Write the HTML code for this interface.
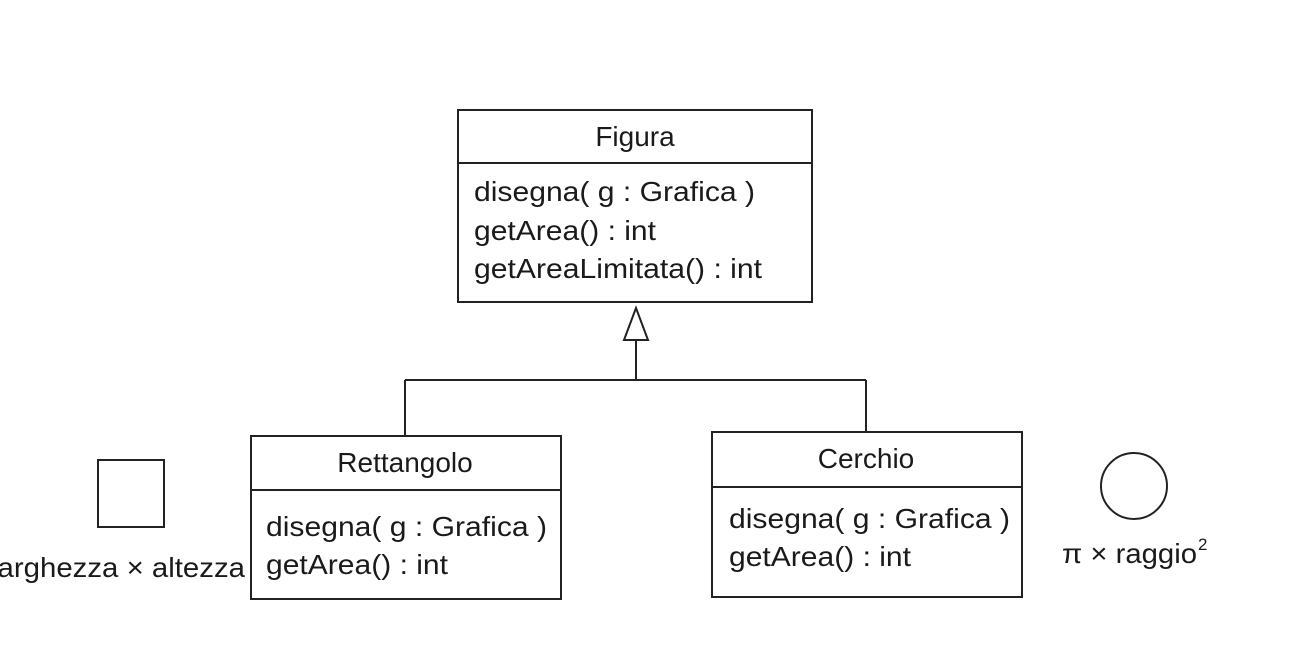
<!DOCTYPE html>
<html><head><meta charset="utf-8"><style>html,body{margin:0;padding:0;background:#fff;}svg{display:block}</style></head>
<body>
<svg width="1310" height="656" viewBox="0 0 1310 656" xmlns="http://www.w3.org/2000/svg" font-family="Liberation Sans, Arial, sans-serif" fill="#1a1a1a">
<g stroke="#222" stroke-width="2" fill="none">
<rect x="458" y="110" width="354" height="192"/>
<line x1="458" y1="163" x2="812" y2="163"/>
<polygon points="636,308 624,340 648,340" fill="#fff"/>
<line x1="636" y1="340" x2="636" y2="380"/>
<line x1="405" y1="380" x2="866" y2="380"/>
<line x1="405" y1="380" x2="405" y2="436"/>
<line x1="866" y1="380" x2="866" y2="432"/>
<rect x="251" y="436" width="310" height="163"/>
<line x1="251" y1="490" x2="561" y2="490"/>
<rect x="712" y="432" width="310" height="165"/>
<line x1="712" y1="487" x2="1022" y2="487"/>
<rect x="98" y="460" width="66" height="67"/>
<circle cx="1134" cy="486" r="33"/>
</g>
<g font-size="28" stroke="none">
<text x="635" y="146" text-anchor="middle">Figura</text>
<text x="474" y="201" textLength="281" lengthAdjust="spacingAndGlyphs">disegna( g : Grafica )</text>
<text x="474" y="240" textLength="182" lengthAdjust="spacingAndGlyphs">getArea() : int</text>
<text x="474" y="278" textLength="288" lengthAdjust="spacingAndGlyphs">getAreaLimitata() : int</text>
<text x="405" y="472" text-anchor="middle">Rettangolo</text>
<text x="266" y="536" textLength="281" lengthAdjust="spacingAndGlyphs">disegna( g : Grafica )</text>
<text x="266" y="574" textLength="182" lengthAdjust="spacingAndGlyphs">getArea() : int</text>
<text x="866" y="468" text-anchor="middle">Cerchio</text>
<text x="729" y="528" textLength="281" lengthAdjust="spacingAndGlyphs">disegna( g : Grafica )</text>
<text x="729" y="566" textLength="182" lengthAdjust="spacingAndGlyphs">getArea() : int</text>
<text x="-9" y="577" textLength="254" lengthAdjust="spacingAndGlyphs">larghezza × altezza</text>
<text x="1062" y="563" textLength="135" lengthAdjust="spacingAndGlyphs">π × raggio</text>
<text x="1198" y="550" font-size="17">2</text>
</g>
</svg>
</body></html>
